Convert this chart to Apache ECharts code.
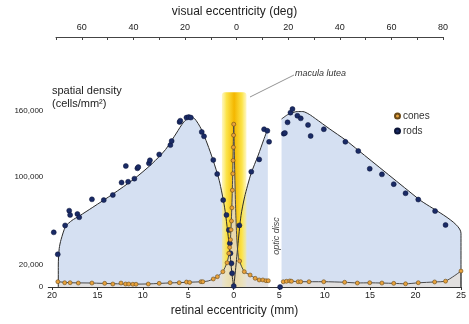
<!DOCTYPE html>
<html>
<head>
<meta charset="utf-8">
<script src="https://cdn.jsdelivr.net/npm/echarts@6/dist/echarts.min.js"></script>
<style>
  html, body { margin: 0; padding: 0; background: #fff; }
  #chart { width: 469px; height: 324px; }
</style>
</head>
<body>
<div id="chart"></div>
<script>
// retinal eccentricity in mm (temporal side negative), density in cells/mm2
const rodPointsTemporal = [
  [-19.8, 49700], [-19.36, 29700], [-18.55, 56000], [-18.1, 69400], [-18.0, 65500],
  [-17.2, 66400], [-17.0, 63400], [-15.6, 79700], [-14.3, 79000], [-13.3, 83600],
  [-12.34, 95000], [-11.62, 95700], [-11.87, 110000], [-10.93, 98500], [-10.6, 107900],
  [-10.5, 109000], [-9.33, 112400], [-9.22, 115200], [-8.2, 120500], [-6.97, 129000],
  [-6.83, 132700], [-5.96, 150000], [-5.88, 151200], [-5.2, 154000], [-4.95, 154500],
  [-4.72, 154000], [-3.52, 141000], [-3.27, 137000], [-2.25, 115500], [-1.82, 102700],
  [-1.16, 79000], [-0.8, 65500], [-0.54, 51800], [-0.43, 39700], [-0.36, 30600],
  [-0.25, 21500], [-0.18, 12500], [0, 800]
];
const rodPointsNasal = [
  [0.62, 56000], [1.93, 104800], [2.8, 116000], [3.34, 143400], [3.7, 142000],
  [3.89, 132000], [5.1, 0], [5.5, 139400], [5.63, 140000], [5.92, 149700], [6.24, 158500],
  [6.46, 161800], [7.0, 155700], [7.37, 153300], [8.17, 147300], [8.46, 137300],
  [9.91, 143400], [12.28, 132000], [13.7, 123600], [14.96, 107500], [16.3, 102400],
  [17.6, 93500], [18.9, 85200], [20.3, 79500], [22.15, 69000], [23.3, 56400]
];
const conePoints = [
  [-19.35, 4800], [-18.6, 3900], [-18.0, 3900], [-17.1, 3600], [-15.6, 3600],
  [-14.2, 3300], [-13.3, 2700], [-12.4, 3600], [-11.9, 2700], [-11.55, 2700],
  [-11.1, 2500], [-10.75, 2500], [-9.4, 2700], [-8.2, 3300], [-7.0, 3900], [-6.0, 3900],
  [-5.2, 4500], [-4.85, 4200], [-3.6, 4800], [-3.4, 4800], [-2.25, 7300], [-1.8, 9400],
  [-1.2, 13900], [-0.73, 22000], [-0.54, 30600], [-0.45, 36000], [-0.36, 43000],
  [-0.3, 52000], [-0.25, 60000], [-0.2, 72000], [-0.15, 88000], [-0.1, 103000],
  [-0.07, 115000], [-0.04, 127000], [-0.02, 138000], [0, 148000],
  [0.65, 23600], [1.16, 13900], [1.8, 10900], [2.36, 7900], [2.8, 6400], [3.2, 6400],
  [3.55, 5700], [3.8, 5700], [5.45, 4800], [5.8, 5200], [6.17, 5500], [6.35, 5200],
  [7.08, 4800], [7.37, 4800], [8.28, 4800], [9.9, 4800], [12.2, 4300], [13.6, 3600],
  [14.96, 3900], [16.3, 3600], [17.6, 3300], [18.9, 2900], [20.3, 3900], [22.1, 4600],
  [23.3, 5300], [25, 14500]
];

// fitted outlines
const rodCurveTemporal = [
  [-19.3, 0], [-19.3, 20000], [-19.2, 35000], [-19.0, 43000], [-18.5, 55000],
  [-17.8, 60500], [-17.0, 64500], [-15.5, 72500], [-13.3, 84500], [-11.0, 98000],
  [-9.0, 112000], [-7.5, 125000], [-6.3, 140000], [-5.5, 150000], [-4.8, 154500],
  [-4.3, 153000], [-3.6, 144000], [-2.9, 130000], [-2.3, 116000], [-1.6, 97000],
  [-1.0, 72000], [-0.5, 38000], [-0.2, 12000], [0, 0]
];
const rodCurveNasalInner = [
  [0, 0], [0.25, 20000], [0.5, 42000], [0.8, 65000], [1.2, 82000], [1.9, 103000],
  [2.7, 120000], [3.3, 134000], [3.75, 144000]
];
const rodCurveNasalOuter = [
  [5.26, 152700], [6.0, 157000], [7.0, 159500], [7.6, 159500], [8.3, 157000],
  [9.0, 153000], [10.5, 144000], [12.3, 133600], [13.7, 124300], [20.3, 80200],
  [25, 48800], [25, 0]
];
const coneCurveInner = [
  [-19.35, 4800], [-18, 3900], [-15.6, 3600], [-13.3, 3000], [-11, 2600], [-9.4, 2800],
  [-7, 3700], [-5, 4300], [-3.5, 4800], [-2.8, 5500], [-2.25, 7300], [-1.8, 9400],
  [-1.2, 14000], [-0.75, 22000], [-0.5, 31000], [-0.35, 45000], [-0.22, 70000],
  [-0.12, 100000], [-0.05, 130000], [0, 148000], [0.05, 130000], [0.12, 100000],
  [0.22, 68000], [0.35, 42000], [0.5, 28000], [0.65, 23000], [1.16, 14000],
  [1.8, 10900], [2.36, 7900], [2.8, 6400], [3.3, 6000], [3.8, 5600]
];
const coneCurveOuter = [
  [5.3, 4800], [6.2, 5300], [7.4, 4800], [9.9, 4800], [12.2, 4300], [13.6, 3700],
  [15, 3800], [17.6, 3300], [18.9, 2900], [20.3, 3800], [22.1, 4600], [23.3, 5400],
  [25, 14500], [25, 0]
];

const mmTicks = [-20, -15, -10, -5, 0, 5, 10, 15, 20, 25];
const densityLabels = [0, 20000, 100000, 160000];
const densityTicks = [0, 20000, 40000, 60000, 80000, 100000, 120000, 140000, 160000];
// macula lutea band: [from mm, to mm, top density]
const maculaBand = [[-1.3, 1.4, 177000]];

const font = '"Liberation Sans", Arial, sans-serif';
const chart = echarts.init(document.getElementById('chart'));

const rodFill = '#d5e0f2';
const coneFill = 'rgba(230,224,218,0.78)';

const areaSeries = (data, color, z) => ({
  type: 'line', data, z, clip: false, smooth: 0.25, symbol: 'none', silent: true,
  lineStyle: { opacity: 0 }, areaStyle: { color, opacity: 1 }
});
const outline = (data, color, z) => ({
  type: 'line', data, z, clip: false, smooth: 0.25, symbol: 'none', silent: true,
  lineStyle: { color, width: 1 }
});

chart.setOption({
  animation: false,
  backgroundColor: '#fff',
  grid: [
    { left: 48.3, right: 4, top: 111, bottom: 37 },
    { left: 56, right: 26, top: 37, height: 1 }
  ],
  xAxis: [{
    type: 'value', min: -20.4, max: 25,
    axisLine: { lineStyle: { color: '#333', width: 1 } },
    axisTick: { length: 3, customValues: mmTicks, lineStyle: { color: '#333' } },
    axisLabel: {
      customValues: mmTicks, margin: 4, color: '#222', fontSize: 9, fontFamily: font,
      formatter: v => String(Math.abs(v))
    },
    splitLine: { show: false }
  }, {
    type: 'value', gridIndex: 1, position: 'top', min: -70, max: 80, interval: 10,
    axisLine: { onZero: false, lineStyle: { color: '#444', width: 1 } },
    axisTick: { inside: true, length: 3, lineStyle: { color: '#444' } },
    axisLabel: {
      margin: 5, color: '#222', fontSize: 9, fontFamily: font,
      formatter: v => (v % 20 === 0 ? String(Math.abs(v)) : '')
    },
    splitLine: { show: false }
  }],
  yAxis: [{
    type: 'value', min: 0, max: 160000,
    axisLine: { show: true, lineStyle: { color: '#333', width: 1 } },
    axisTick: { show: true, length: 3, customValues: densityTicks, lineStyle: { color: '#333' } },
    axisLabel: {
      customValues: densityLabels, margin: 5, color: '#222', fontSize: 8, fontFamily: font,
      formatter: v => v.toLocaleString('en-US')
    },
    splitLine: { show: false }
  }, {
    type: 'value', gridIndex: 1, min: 0, max: 1, show: false
  }],
  legend: {
    data: ['cones', 'rods'], orient: 'vertical', left: 389, top: 106,
    itemWidth: 5, itemHeight: 5, itemGap: 5, icon: 'circle',
    textStyle: { fontSize: 10, fontFamily: font, color: '#333', padding: [0, 0, 0, -2] }
  },
  series: [
    areaSeries(rodCurveTemporal, rodFill, 1),
    areaSeries(rodCurveNasalInner, rodFill, 1),
    areaSeries(rodCurveNasalOuter, rodFill, 1),
    {
      type: 'custom', data: maculaBand, z: 2, clip: false, silent: true,
      encode: { x: [0, 1], y: 2 },
      renderItem: (params, api) => {
        const p0 = api.coord([api.value(0), api.value(2)]);
        const p1 = api.coord([api.value(1), 0]);
        return {
          type: 'rect',
          shape: { x: p0[0], y: p0[1], width: p1[0] - p0[0], height: p1[1] - p0[1], r: [3, 3, 0, 0] },
          style: {
            fill: {
              type: 'linear', x: 0, y: 0, x2: 1, y2: 0,
              colorStops: [
                { offset: 0, color: 'rgba(253,236,120,0.45)' },
                { offset: 0.18, color: '#fce44a' },
                { offset: 0.5, color: '#f4b700' },
                { offset: 0.82, color: '#fce44a' },
                { offset: 1, color: 'rgba(253,236,120,0.45)' }
              ]
            }
          }
        };
      }
    },
    areaSeries(coneCurveInner, coneFill, 3),
    areaSeries(coneCurveOuter, coneFill, 3),
    outline(rodCurveTemporal, '#2b2b2b', 4),
    outline(rodCurveNasalInner, '#2b2b2b', 4),
    outline(rodCurveNasalOuter, '#2b2b2b', 4),
    outline(coneCurveInner, '#4a4a4a', 4),
    outline(coneCurveOuter, '#4a4a4a', 4),
    {
      name: 'rods', type: 'scatter', data: rodPointsTemporal.concat(rodPointsNasal),
      z: 5, clip: false, symbolSize: 5,
      itemStyle: { color: '#1a2b66', borderColor: '#0c1538', borderWidth: 0.5, opacity: 1 }
    },
    {
      name: 'cones', type: 'scatter', data: conePoints, z: 6, clip: false, symbolSize: 4,
      itemStyle: { color: '#e8a23c', borderColor: '#6a4a18', borderWidth: 0.6, opacity: 1 }
    }
  ],
  graphic: [
    { type: 'text', left: 'center', top: 6, style: { text: 'visual eccentricity (deg)', fontSize: 12, fontFamily: font, fill: '#222' } },
    { type: 'text', left: 'center', top: 305, style: { text: 'retinal eccentricity (mm)', fontSize: 12, fontFamily: font, fill: '#222' } },
    { type: 'text', left: 52, top: 84, style: { text: 'spatial density\n(cells/mm\u00b2)', fontSize: 11, lineHeight: 13, fontFamily: font, fill: '#222' } },
    { type: 'text', left: 112, top: 242, style: { text: 'temporal', fontSize: 11, fontStyle: 'italic', fontFamily: font, fill: '#333' } },
    { type: 'text', left: 320, top: 242, style: { text: 'nasal', fontSize: 11, fontStyle: 'italic', fontFamily: font, fill: '#333' } },
    { type: 'text', x: 276, y: 236, rotation: Math.PI / 2, style: { text: 'optic disc', fontSize: 9, fontStyle: 'italic', fontFamily: font, fill: '#444', align: 'center', verticalAlign: 'middle' } },
    { type: 'text', left: 295, top: 69, style: { text: 'macula lutea', fontSize: 9, fontStyle: 'italic', fontFamily: font, fill: '#333' } },
    { type: 'line', shape: { x1: 250, y1: 97, x2: 294, y2: 75 }, style: { stroke: '#777', lineWidth: 0.8 } }
  ]
});
</script>
</body>
</html>
